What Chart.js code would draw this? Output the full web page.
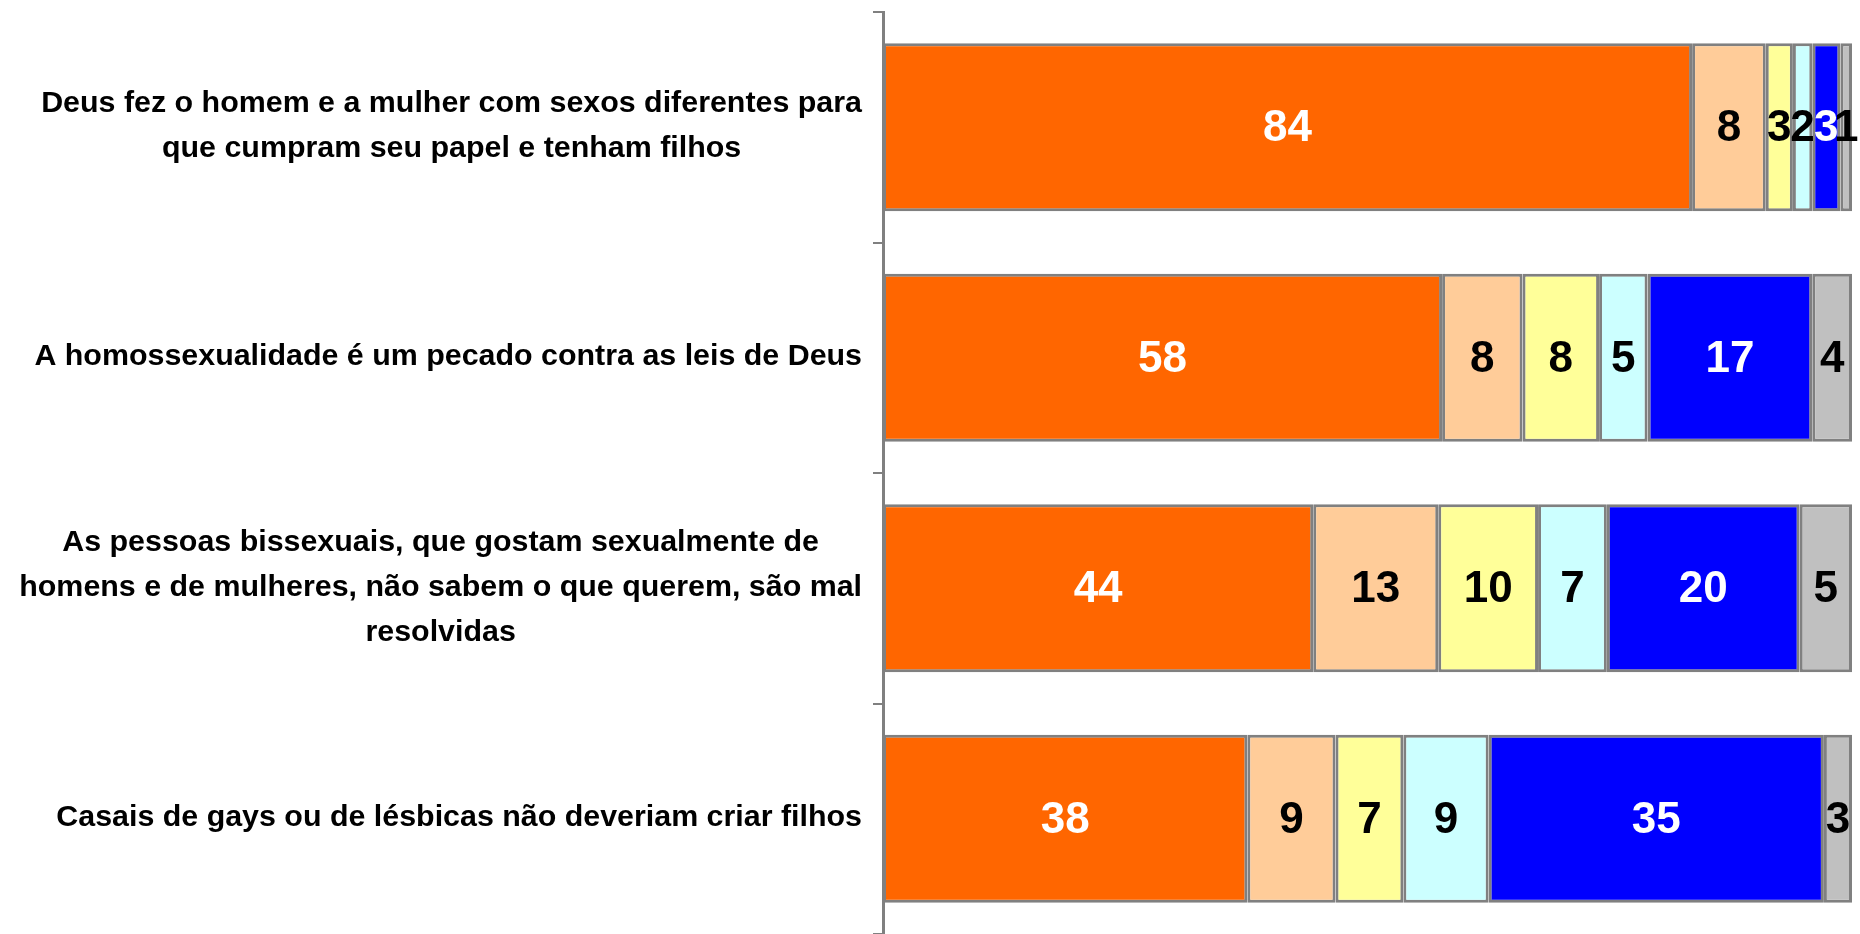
<!DOCTYPE html>
<html lang="pt-BR">
<head>
<meta charset="UTF-8">
<title>Concordância com as frases</title>
<script src="https://cdn.jsdelivr.net/npm/chart.js@4.4.1/dist/chart.umd.min.js"></script>
<style>
  html, body { margin: 0; padding: 0; background: #fff; }
  .chart-wrap { width: 1860px; height: 934px; }
</style>
</head>
<body>
<div class="chart-wrap"><canvas id="barChart"></canvas></div>
<script>
// categorias (uma linha por item do array)
const categories = [
  ['Deus fez o homem e a mulher com sexos diferentes para', 'que cumpram seu papel e tenham filhos'],
  ['A homossexualidade é um pecado contra as leis de Deus'],
  ['As pessoas bissexuais, que gostam sexualmente de', 'homens e de mulheres, não sabem o que querem, são mal', 'resolvidas'],
  ['Casais de gays ou de lésbicas não deveriam criar filhos'],
];

const concordaTotal = [83.5, 57.7, 44.4, 37.6];
const concordaParte = [7.6, 8.3, 12.9, 9.1];
const nemNem = [2.8, 7.9, 10.3, 7.0];
const discordaParte = [2.0, 5.0, 7.1, 8.8];
const discordaTotal = [2.9, 17.0, 19.9, 34.6];
const naoSabe = [1.2, 4.1, 5.4, 2.9];

const seriesNames = ['Concorda totalmente', 'Concorda em parte', 'Nem concorda nem discorda', 'Discorda em parte', 'Discorda totalmente', 'Não sabe'];

document.addEventListener('DOMContentLoaded', function () {
  const fontFamily = '"Liberation Sans", Arial, sans-serif';

  function makeSet(i, values, color, labelColor) {
    return {
      label: seriesNames[i],
      data: values,
      backgroundColor: color,
      borderColor: '#808080',
      borderWidth: 3,
      borderSkipped: false,
      labelColor: labelColor,
    };
  }

  // rótulos de valor no centro de cada segmento
  const valueLabels = {
    id: 'valueLabels',
    afterDatasetsDraw(chart) {
      const ctx = chart.ctx;
      ctx.save();
      ctx.font = 'bold 44px ' + fontFamily;
      ctx.textAlign = 'center';
      ctx.textBaseline = 'middle';
      chart.data.datasets.forEach(function (ds, di) {
        const meta = chart.getDatasetMeta(di);
        meta.data.forEach(function (bar, i) {
          const c = bar.getCenterPoint();
          ctx.fillStyle = ds.labelColor;
          ctx.fillText(String(Math.round(ds.data[i])), c.x, c.y + 2);
        });
      });
      ctx.restore();
    },
  };

  // rótulos das categorias: bloco alinhado à direita, linhas centralizadas
  const categoryLabels = {
    id: 'categoryLabels',
    afterDraw(chart) {
      const ctx = chart.ctx;
      const yScale = chart.scales.y;
      const right = yScale.right - 21;
      ctx.save();
      ctx.font = 'bold 30.4px ' + fontFamily;
      ctx.fillStyle = '#000';
      ctx.textAlign = 'center';
      ctx.textBaseline = 'middle';
      categories.forEach(function (lines, i) {
        const cy = yScale.getPixelForValue(i) - 1;
        const maxW = Math.max.apply(null, lines.map(function (l) { return ctx.measureText(l).width; }));
        const cx = right - maxW / 2;
        lines.forEach(function (line, j) {
          ctx.fillText(line, cx, cy + (j - (lines.length - 1) / 2) * 45);
        });
      });
      ctx.restore();
    },
  };

  new Chart(document.getElementById('barChart'), {
    type: 'bar',
    data: {
      labels: categories,
      datasets: [
        makeSet(0, concordaTotal, '#FF6600', '#ffffff'),
        makeSet(1, concordaParte, '#FFCC99', '#000000'),
        makeSet(2, nemNem, '#FFFF99', '#000000'),
        makeSet(3, discordaParte, '#CCFFFF', '#000000'),
        makeSet(4, discordaTotal, '#0000FF', '#ffffff'),
        makeSet(5, naoSabe, '#C0C0C0', '#000000'),
      ],
    },
    options: {
      indexAxis: 'y',
      responsive: true,
      maintainAspectRatio: false,
      animation: false,
      barPercentage: 0.729,
      categoryPercentage: 1,
      layout: {
        padding: { top: 12, right: 8, bottom: 0, left: 0 },
      },
      plugins: {
        legend: { display: false },
        tooltip: { enabled: false },
      },
      scales: {
        x: {
          stacked: true,
          display: false,
          min: 0,
          max: 100,
        },
        y: {
          stacked: true,
          afterFit: function (scale) {
            scale.width = 883;
          },
          grid: {
            offset: true,
            drawOnChartArea: false,
            drawTicks: true,
            tickLength: 10,
            color: '#808080',
            lineWidth: 2,
          },
          border: {
            display: true,
            color: '#808080',
            width: 3,
          },
          ticks: { display: false },
        },
      },
    },
    plugins: [valueLabels, categoryLabels],
  });
});
</script>
</body>
</html>
